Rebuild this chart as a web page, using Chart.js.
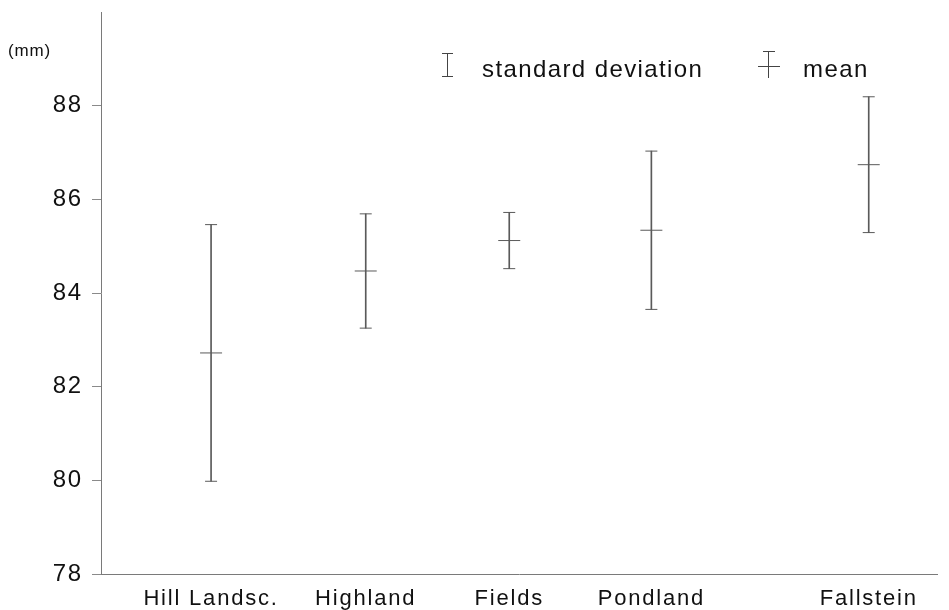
<!DOCTYPE html>
<html>
<head>
<meta charset="utf-8">
<script src="https://cdn.jsdelivr.net/npm/chart.js@4/dist/chart.umd.min.js"></script>
<style>
  body { margin: 0; background: #fff; }
  canvas { display: block; }
</style>
</head>
<body>
<canvas id="chart" width="949" height="610"></canvas>
<script>
// Regions and measured values (mm)
const categories = ['Hill Landsc.', 'Highland', 'Fields', 'Pondland', 'Fallstein'];
const groupX = [0.79, 1.9, 2.93, 3.95, 5.51]; // where each region sits on the x axis
const means = [82.72, 84.47, 85.12, 85.34, 86.74];
const stdDevs = [2.74, 1.22, 0.60, 1.69, 1.45];
const yTicks = [78, 80, 82, 84, 86, 88];

const lineColor = '#5a5a5a';
const textColor = '#111';
const fontFamily = '"Liberation Sans", Arial, Helvetica, sans-serif';

const upper = means.map((m, i) => m + stdDevs[i]);
const lower = means.map((m, i) => m - stdDevs[i]);

// letter spacing for the axis text (the original is set a little wide)
const spacing = {
  id: 'spacing',
  beforeDraw(chart) {
    chart.ctx.letterSpacing = '1.8px';
  }
};

// legend and unit label
const legendPlugin = {
  id: 'errLegend',
  afterDraw(chart) {
    const ctx = chart.ctx;
    ctx.save();
    ctx.strokeStyle = '#444';
    ctx.lineWidth = 1;
    ctx.beginPath();
    // "I" glyph
    ctx.moveTo(447.5, 53); ctx.lineTo(447.5, 77);
    ctx.moveTo(442, 53.5); ctx.lineTo(453, 53.5);
    ctx.moveTo(442, 76.5); ctx.lineTo(453, 76.5);
    // mean glyph
    ctx.moveTo(768.5, 51); ctx.lineTo(768.5, 78);
    ctx.moveTo(763, 51.5); ctx.lineTo(775, 51.5);
    ctx.moveTo(758, 66.5); ctx.lineTo(780, 66.5);
    ctx.stroke();

    ctx.fillStyle = textColor;
    ctx.letterSpacing = '1.4px';
    ctx.font = '24px ' + fontFamily;
    ctx.textBaseline = 'alphabetic';
    ctx.textAlign = 'left';
    ctx.fillText('standard deviation', 482, 77);
    ctx.fillText('mean', 803, 77);

    ctx.letterSpacing = '0.8px';
    ctx.font = '17px ' + fontFamily;
    ctx.textBaseline = 'middle';
    ctx.fillText('(mm)', 8, 51);
    ctx.restore();
  }
};

new Chart(document.getElementById('chart'), {
  data: {
    datasets: [
      {
        type: 'bar',
        label: 'standard deviation',
        data: groupX.map((x, i) => ({ x: x, y: [lower[i], upper[i]] })),
        backgroundColor: lineColor,
        barThickness: 1,
        borderWidth: 0
      },
      {
        type: 'scatter',
        label: 'caps',
        data: groupX.flatMap((x, i) => [{ x: x, y: upper[i] }, { x: x, y: lower[i] }]),
        pointStyle: 'line',
        radius: 6,
        hoverRadius: 6,
        borderColor: lineColor,
        borderWidth: 1
      },
      {
        type: 'scatter',
        label: 'mean',
        data: groupX.map((x, i) => ({ x: x, y: means[i] })),
        pointStyle: 'line',
        radius: 11,
        hoverRadius: 11,
        borderColor: lineColor,
        borderWidth: 1
      }
    ]
  },
  options: {
    responsive: false,
    animation: false,
    events: [],
    layout: { padding: { top: 8, right: 6, left: 0, bottom: 0 } },
    plugins: {
      legend: { display: false },
      tooltip: { enabled: false }
    },
    scales: {
      x: {
        type: 'linear',
        min: 0,
        max: 6,
        offset: false,
        afterFit(scale) {
          scale.height = 36;
          scale.paddingLeft = 0;
          scale.paddingRight = 0;
        },
        afterBuildTicks(scale) { scale.ticks = groupX.map(v => ({ value: v })); },
        grid: { drawOnChartArea: false, drawTicks: false, offset: false },
        border: { color: '#7a7a7a', width: 1 },
        ticks: {
          padding: 12,
          autoSkip: false,
          maxRotation: 0,
          color: textColor,
          font: { family: fontFamily, size: 22 },
          callback(value) {
            const i = groupX.indexOf(value);
            return i >= 0 ? categories[i] : '';
          }
        }
      },
      y: {
        min: 78,
        max: 90,
        afterFit(scale) {
          scale.width = 101;
          scale.paddingTop = 0;
          scale.paddingBottom = 0;
        },
        afterBuildTicks(scale) { scale.ticks = yTicks.map(v => ({ value: v })); },
        grid: { drawOnChartArea: false, tickLength: 9, color: '#8a8a8a' },
        border: { color: '#7a7a7a', width: 1 },
        ticks: {
          padding: 9,
          color: textColor,
          font: { family: fontFamily, size: 24 }
        }
      }
    }
  },
  plugins: [spacing, legendPlugin]
});
</script>
</body>
</html>
